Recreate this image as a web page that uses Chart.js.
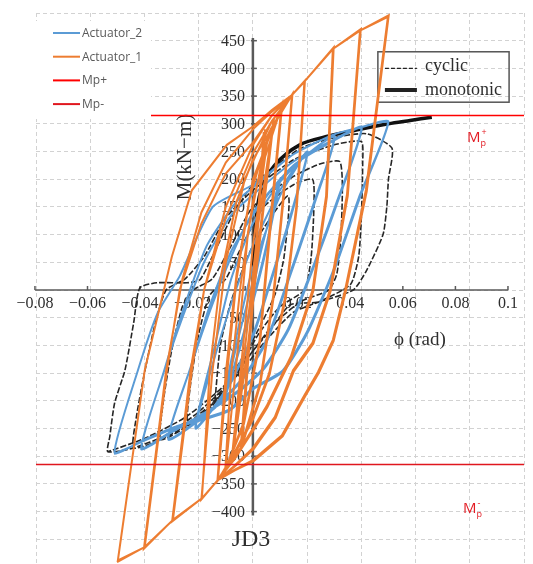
<!DOCTYPE html>
<html>
<head>
<meta charset="utf-8">
<script src="https://cdn.jsdelivr.net/npm/chart.js@4.4.1/dist/chart.umd.min.js"></script>
<style>
  html, body { margin: 0; padding: 0; background: #fff; overflow: hidden; }
  #wrap { position: relative; width: 533px; height: 570px; }
</style>
</head>
<body>
<div id="wrap"><canvas id="chart"></canvas></div>
<script>
// [phi (rad), M (kN-m)]
const actuator1 = [
  [0, 0], [0.0040, 285], [-0.0040, -280], [0.0045, 290], [-0.0045, -285],
  [0.0015, 60], [0.0075, 305], [0.0030, 120], [-0.0020, -110], [-0.0075, -300], [-0.0030, -110], [0.0020, 120], [0.0078, 310], [0.0032, 115], [-0.0022, -115], [-0.0078, -305],
  [-0.0040, -120], [0.0000, 80], [0.0045, 240], [0.0105, 330], [0.0065, 130], [0.0025, -90], [-0.0035, -240], [-0.0100, -322], [-0.0058, -118], [-0.0018, 105], [0.0042, 255], [0.0108, 333], [0.0068, 128], [0.0027, -92], [-0.0033, -242], [-0.0102, -325],
  [-0.0080, -150], [-0.0045, 10], [0.0000, 160], [0.0065, 290], [0.0144, 352], [0.0110, 160], [0.0075, -10], [0.0025, -170], [-0.0045, -285], [-0.0129, -343], [-0.0095, -150], [-0.0060, 20], [-0.0010, 170], [0.0060, 285], [0.0146, 354], [0.0112, 158], [0.0077, -12], [0.0027, -172], [-0.0043, -287], [-0.0131, -345],
  [-0.0100, -150], [-0.0060, 30], [0.0000, 200], [0.0080, 300], [0.0144, 352], [0.0190, 376], [0.0160, 150], [0.0120, -10], [0.0060, -150], [0.0000, -230], [-0.0070, -295], [-0.0129, -343], [-0.0188, -376], [-0.0159, -145], [-0.0120, 20], [-0.0060, 160], [0.0000, 235], [0.0080, 300], [0.0144, 352], [0.0192, 378], [0.0162, 148], [0.0122, -12], [0.0062, -152], [0.0002, -232], [-0.0068, -297], [-0.0129, -343], [-0.0190, -378],
  [-0.0150, -150], [-0.0100, 50], [-0.0030, 200], [0.0070, 305], [0.0144, 352], [0.0190, 376], [0.0295, 435], [0.0270, 170], [0.0220, 0], [0.0140, -120], [0.0050, -210], [0.0000, -250], [-0.0070, -305], [-0.0129, -343], [-0.0188, -376], [-0.0295, -415],
  [-0.0225, -145], [-0.0180, 0], [-0.0100, 130], [0.0000, 247], [0.0070, 305], [0.0144, 352], [0.0190, 376], [0.0298, 438], [0.0273, 168], [0.0223, -2], [0.0143, -122], [0.0053, -212], [0.0003, -252], [-0.0068, -306], [-0.0129, -343], [-0.0188, -376], [-0.0298, -418],
  [-0.0230, -145], [-0.0180, 0], [-0.0100, 150], [0.0000, 262], [0.0070, 315], [0.0144, 352], [0.0190, 376], [0.0295, 435], [0.0395, 468], [0.0347, 172], [0.0284, 0], [0.0220, -95], [0.0148, -145], [0.0081, -229], [0.0000, -285], [-0.0070, -318], [-0.0129, -343], [-0.0188, -376], [-0.0295, -415], [-0.0399, -464],
  [-0.0317, -145], [-0.0270, 0], [-0.0190, 120], [-0.0100, 210], [0.0000, 266], [0.0070, 315], [0.0144, 352], [0.0190, 376], [0.0295, 435], [0.0398, 471], [0.0350, 170], [0.0287, -2], [0.0223, -97], [0.0151, -147], [0.0084, -231], [0.0003, -287], [-0.0068, -319], [-0.0129, -343], [-0.0188, -376], [-0.0295, -415], [-0.0402, -467],
  [-0.0320, -145], [-0.0260, 20], [-0.0190, 140], [-0.0100, 230], [0.0000, 290], [0.0070, 322], [0.0144, 352], [0.0190, 376], [0.0295, 435], [0.0395, 468], [0.0498, 493], [0.0417, 181], [0.0340, 0], [0.0295, -90], [0.0240, -148], [0.0190, -190], [0.0107, -262], [0.0000, -307], [-0.0070, -325], [-0.0129, -343], [-0.0188, -376], [-0.0295, -415], [-0.0399, -464], [-0.0498, -488],
  [-0.0399, -145], [-0.0299, 60], [-0.0225, 180], [-0.0096, 262], [0.0000, 295], [0.0070, 325], [0.0144, 352], [0.0190, 376], [0.0295, 435], [0.0395, 468], [0.0501, 496], [0.0420, 178], [0.0343, -2], [0.0298, -92], [0.0243, -150], [0.0193, -192], [0.0110, -264], [0.0003, -309], [-0.0068, -326], [-0.0129, -343], [-0.0188, -376], [-0.0295, -415], [-0.0399, -464], [-0.0501, -491]
];

const actuator2 = [
  [0, 0], [0.0030, 70], [0.0100, 200], [0.0040, 60], [-0.0030, -70], [-0.0110, -205], [-0.0040, -60], [0.0030, 72], [0.0102, 202], [0.0042, 58], [-0.0028, -72], [-0.0112, -207],
  [-0.0050, -60], [0.0000, 40], [0.0100, 170], [0.0200, 248], [0.0130, 120], [0.0060, 10], [0.0000, -80], [-0.0100, -180], [-0.0210, -248], [-0.0140, -120], [-0.0070, -10], [0.0000, 80], [0.0100, 180], [0.0202, 250], [0.0132, 118], [0.0062, 8], [0.0002, -82], [-0.0098, -182], [-0.0212, -250],
  [-0.0140, -100], [-0.0080, 20], [0.0000, 120], [0.0100, 195], [0.0200, 245], [0.0300, 276], [0.0220, 150], [0.0130, 20], [0.0050, -90], [-0.0040, -160], [-0.0150, -215], [-0.0310, -268], [-0.0230, -140], [-0.0160, -30], [-0.0080, 70], [0.0000, 135], [0.0100, 200], [0.0200, 245], [0.0302, 278], [0.0222, 148], [0.0132, 18], [0.0052, -92], [-0.0038, -162], [-0.0150, -217], [-0.0312, -270],
  [-0.0230, -140], [-0.0160, -40], [-0.0080, 60], [0.0000, 140], [0.0150, 225], [0.0300, 270], [0.0400, 292], [0.0310, 160], [0.0220, 40], [0.0130, -70], [0.0040, -140], [-0.0050, -180], [-0.0200, -228], [-0.0300, -255], [-0.0410, -285], [-0.0330, -150], [-0.0260, -50], [-0.0180, 50], [-0.0080, 135], [0.0000, 172], [0.0150, 232], [0.0300, 272], [0.0402, 294], [0.0312, 158], [0.0222, 38], [0.0132, -72], [0.0042, -142], [-0.0048, -182], [-0.0200, -230], [-0.0300, -257], [-0.0412, -287],
  [-0.0330, -150], [-0.0260, -40], [-0.0170, 80], [-0.0060, 160], [0.0000, 185], [0.0150, 245], [0.0295, 280], [0.0400, 294], [0.0498, 302], [0.0395, 172], [0.0300, 40], [0.0200, -75], [0.0110, -145], [0.0000, -177], [-0.0092, -217], [-0.0288, -247], [-0.0400, -270], [-0.0510, -294],
  [-0.0424, -145], [-0.0350, -40], [-0.0270, 25], [-0.0148, 150], [0.0000, 190], [0.0150, 245], [0.0295, 280], [0.0400, 294], [0.0500, 304], [0.0397, 170], [0.0302, 38], [0.0202, -77], [0.0112, -147], [0.0002, -179], [-0.0090, -219], [-0.0288, -249], [-0.0400, -272], [-0.0512, -296]
];

// the scanned test curves behind the Excel series
const cyclicTest = [
  [-0.0140, -200], [-0.0120, -100], [-0.0080, -20], [0.0000, 80], [0.0130, 170], [0.0115, 60], [0.0080, -10], [0.0000, -90], [-0.0140, -200],
  [-0.0240, -245], [-0.0230, -170], [-0.0200, -80], [-0.0160, -10], [-0.0100, 20], [-0.0040, 80], [0.0040, 150], [0.0150, 190], [0.0220, 200], [0.0225, 150], [0.0215, 60], [0.0190, 0], [0.0100, -30], [0.0020, -80], [-0.0060, -150], [-0.0160, -215], [-0.0240, -245],
  [-0.0340, -270], [-0.0330, -200], [-0.0300, -110], [-0.0260, -30], [-0.0220, 0], [-0.0150, 20], [-0.0080, 80], [0.0000, 150], [0.0150, 205], [0.0250, 228], [0.0320, 232], [0.0330, 190], [0.0325, 100], [0.0310, 30], [0.0280, 0], [0.0180, -20], [0.0080, -60], [0.0000, -110], [-0.0120, -190], [-0.0250, -245], [-0.0340, -270],
  [-0.0440, -285], [-0.0430, -230], [-0.0400, -150], [-0.0360, -60], [-0.0320, 0], [-0.0250, 20], [-0.0180, 60], [-0.0100, 130], [0.0000, 180], [0.0150, 235], [0.0300, 262], [0.0400, 268], [0.0405, 230], [0.0400, 130], [0.0390, 60], [0.0360, 10], [0.0250, -20], [0.0150, -40], [0.0050, -90], [-0.0050, -150], [-0.0200, -220], [-0.0320, -262], [-0.0440, -285],
  [-0.0535, -292], [-0.0528, -265], [-0.0510, -204], [-0.0472, -145], [-0.0440, -60], [-0.0417, 4], [-0.0354, 13], [-0.0243, 13], [-0.0196, 18], [-0.0150, 60], [-0.0080, 130], [0.0000, 190], [0.0173, 255], [0.0300, 275], [0.0420, 282], [0.0513, 256], [0.0500, 200], [0.0494, 150], [0.0480, 100], [0.0420, 36], [0.0370, 0], [0.0236, -22], [0.0137, -27], [0.0060, -75], [0.0000, -110], [-0.0100, -170], [-0.0250, -230], [-0.0400, -268], [-0.0535, -292]
];
const monotonicTest = [
  [0, 0], [0.0010, 120], [0.0030, 180], [0.0080, 225], [0.0173, 262], [0.0280, 278], [0.0395, 290], [0.0500, 300], [0.0580, 306], [0.0660, 312]
];

const mpPlus = 315;
const mpMinus = -315;
const phiRange = [-0.08, 0.1];

const phiTicks = [-0.08, -0.06, -0.04, -0.02, 0, 0.02, 0.04, 0.06, 0.08, 0.1];
const mTicks = [450, 400, 350, 300, 250, 200, 150, 100, 50, -50, -100, -150, -200, -250, -300, -350, -400];

const toPoints = rows => rows.map(([x, y]) => ({ x, y }));
const minus = s => String(s).replace('-', '\u2212');

const serif = '"Liberation Serif", "Times New Roman", serif';

// axes, titles and key box of the scanned figure
const scanFigure = {
  id: 'scanFigure',
  beforeDatasetsDraw(chart) {
    const { ctx, scales: { x, y, xs } } = chart;
    const x0 = x.getPixelForValue(0);
    const y0 = y.getPixelForValue(0);
    ctx.save();
    ctx.strokeStyle = '#5a5a5a';
    ctx.fillStyle = '#2e2e2e';

    // phi axis
    ctx.lineWidth = 1.5;
    ctx.beginPath();
    ctx.moveTo(xs.getPixelForValue(phiTicks[0]), y0);
    ctx.lineTo(xs.getPixelForValue(phiTicks[phiTicks.length - 1]), y0);
    ctx.stroke();
    ctx.font = '16px ' + serif;
    ctx.textAlign = 'center';
    ctx.textBaseline = 'middle';
    phiTicks.forEach(v => {
      const px = xs.getPixelForValue(v);
      ctx.beginPath(); ctx.moveTo(px, y0); ctx.lineTo(px, y0 - 4); ctx.stroke();
      if (v !== 0) ctx.fillText(minus(v), px, y0 + 14);
    });

    // M axis
    ctx.lineWidth = 2.5;
    ctx.beginPath();
    ctx.moveTo(x0, y.getPixelForValue(455));
    ctx.lineTo(x0, y.getPixelForValue(-407));
    ctx.stroke();
    ctx.lineWidth = 1.5;
    ctx.textAlign = 'right';
    mTicks.forEach(v => {
      const py = y.getPixelForValue(v);
      ctx.beginPath(); ctx.moveTo(x0 - 2, py); ctx.lineTo(x0 + 4, py); ctx.stroke();
      ctx.fillText(minus(v), x0 - 8, py + 1);
    });

    // titles
    ctx.textAlign = 'center';
    ctx.font = '21px ' + serif;
    ctx.save();
    ctx.translate(x.getPixelForValue(-0.0247), y.getPixelForValue(240));
    ctx.rotate(-Math.PI / 2);
    ctx.fillText('M(kN\u2212m)', 0, 0);
    ctx.restore();
    ctx.font = '19px ' + serif;
    ctx.fillText('\u03d5 (rad)', x.getPixelForValue(0.0616), y.getPixelForValue(-90));
    ctx.font = '24px ' + serif;
    ctx.fillText('JD3', x.getPixelForValue(-0.0007), y.getPixelForValue(-451));

    // cyclic / monotonic key
    const bx1 = x.getPixelForValue(0.0461), bx2 = x.getPixelForValue(0.0945);
    const by1 = y.getPixelForValue(430), by2 = y.getPixelForValue(339);
    ctx.lineWidth = 1.5;
    ctx.strokeStyle = '#555';
    ctx.strokeRect(bx1, by1, bx2 - bx1, by2 - by1);
    const lx1 = x.getPixelForValue(0.0487), lx2 = x.getPixelForValue(0.0605);
    ctx.strokeStyle = '#222';
    ctx.lineWidth = 1.2;
    ctx.setLineDash([4, 2]);
    ctx.beginPath(); ctx.moveTo(lx1, y.getPixelForValue(400)); ctx.lineTo(lx2, y.getPixelForValue(400)); ctx.stroke();
    ctx.setLineDash([]);
    ctx.lineWidth = 4;
    ctx.beginPath(); ctx.moveTo(lx1, y.getPixelForValue(361)); ctx.lineTo(lx2, y.getPixelForValue(361)); ctx.stroke();
    ctx.font = '18px ' + serif;
    ctx.textAlign = 'left';
    ctx.fillText('cyclic', x.getPixelForValue(0.0635), y.getPixelForValue(404));
    ctx.fillText('monotonic', x.getPixelForValue(0.0635), y.getPixelForValue(361));
    ctx.restore();
  }
};

// Excel-style legend box and the Mp text boxes
const sheetLegend = {
  id: 'sheetLegend',
  afterDatasetsDraw(chart) {
    const { ctx, scales: { x, y } } = chart;
    const items = chart.data.datasets.filter(d => d.inLegend);
    ctx.save();
    ctx.fillStyle = '#fff';
    ctx.fillRect(34, 21, 117, 98);
    ctx.font = '12px "Open Sans", sans-serif';
    ctx.textBaseline = 'middle';
    ctx.textAlign = 'left';
    items.forEach((d, i) => {
      const yy = 33 + i * 23.7;
      ctx.strokeStyle = d.borderColor;
      ctx.lineWidth = 2;
      ctx.beginPath(); ctx.moveTo(53, yy); ctx.lineTo(80, yy); ctx.stroke();
      ctx.fillStyle = '#595959';
      ctx.fillText(d.label, 82, yy + 0.5);
    });

    ctx.fillStyle = '#e31b23';
    ctx.textBaseline = 'alphabetic';
    [[0.079, 267, '+'], [0.0775, -403, '-']].forEach(([px, py, sign]) => {
      const lx = x.getPixelForValue(px), ly = y.getPixelForValue(py);
      ctx.font = '15px "Open Sans", sans-serif';
      ctx.fillText('M', lx, ly);
      const w = ctx.measureText('M').width;
      ctx.font = '9px "Open Sans", sans-serif';
      ctx.fillText('p', lx + w, ly + 4);
      ctx.fillText(sign, lx + w + 1, ly - 7);
    });
    ctx.restore();
  }
};

const lineSet = (label, rows, color, width, extra) => Object.assign({
  label,
  data: toPoints(rows),
  showLine: true,
  borderColor: color,
  backgroundColor: color,
  borderWidth: width,
  pointRadius: 0,
  fill: false,
  tension: 0,
  xAxisID: 'x',
  yAxisID: 'y'
}, extra);

const gridStyle = { color: '#d2d2d2', lineWidth: 1, drawTicks: false };
const borderStyle = { display: false, dash: [4, 3] };

new Chart(document.getElementById('chart'), {
  type: 'scatter',
  data: {
    datasets: [
      lineSet('Actuator_2', actuator2, '#5b9bd5', 2, { order: 3, tension: 0.2, inLegend: true }),
      lineSet('Actuator_1', actuator1, '#ed7d31', 2, { order: 2, inLegend: true }),
      lineSet('Mp+', [[phiRange[0], mpPlus], [phiRange[1], mpPlus]], '#ff0000', 1.5, { order: 1, inLegend: true }),
      lineSet('Mp-', [[phiRange[0], mpMinus], [phiRange[1], mpMinus]], '#e0161e', 1.5, { order: 0, inLegend: true }),
      lineSet('cyclic', cyclicTest, '#262626', 1.6, { order: 5, tension: 0.2, borderDash: [6, 2] }),
      lineSet('monotonic', monotonicTest, '#111', 3.5, { order: 4, tension: 0.3 })
    ]
  },
  options: {
    responsive: true,
    maintainAspectRatio: false,
    animation: false,
    events: [],
    layout: { padding: { left: 36, right: 9, top: 13, bottom: 3 } },
    plugins: { legend: { display: false }, tooltip: { enabled: false } },
    scales: {
      x: {
        type: 'linear', min: phiRange[0], max: phiRange[1],
        ticks: { display: false, stepSize: 0.02 },
        grid: gridStyle, border: borderStyle
      },
      y: {
        type: 'linear', min: -500, max: 500,
        ticks: { display: false, stepSize: 50 },
        grid: gridStyle, border: borderStyle
      },
      xs: { type: 'linear', display: false, min: -0.0796, max: 0.1061 }
    }
  },
  plugins: [scanFigure, sheetLegend]
});
</script>
</body>
</html>
